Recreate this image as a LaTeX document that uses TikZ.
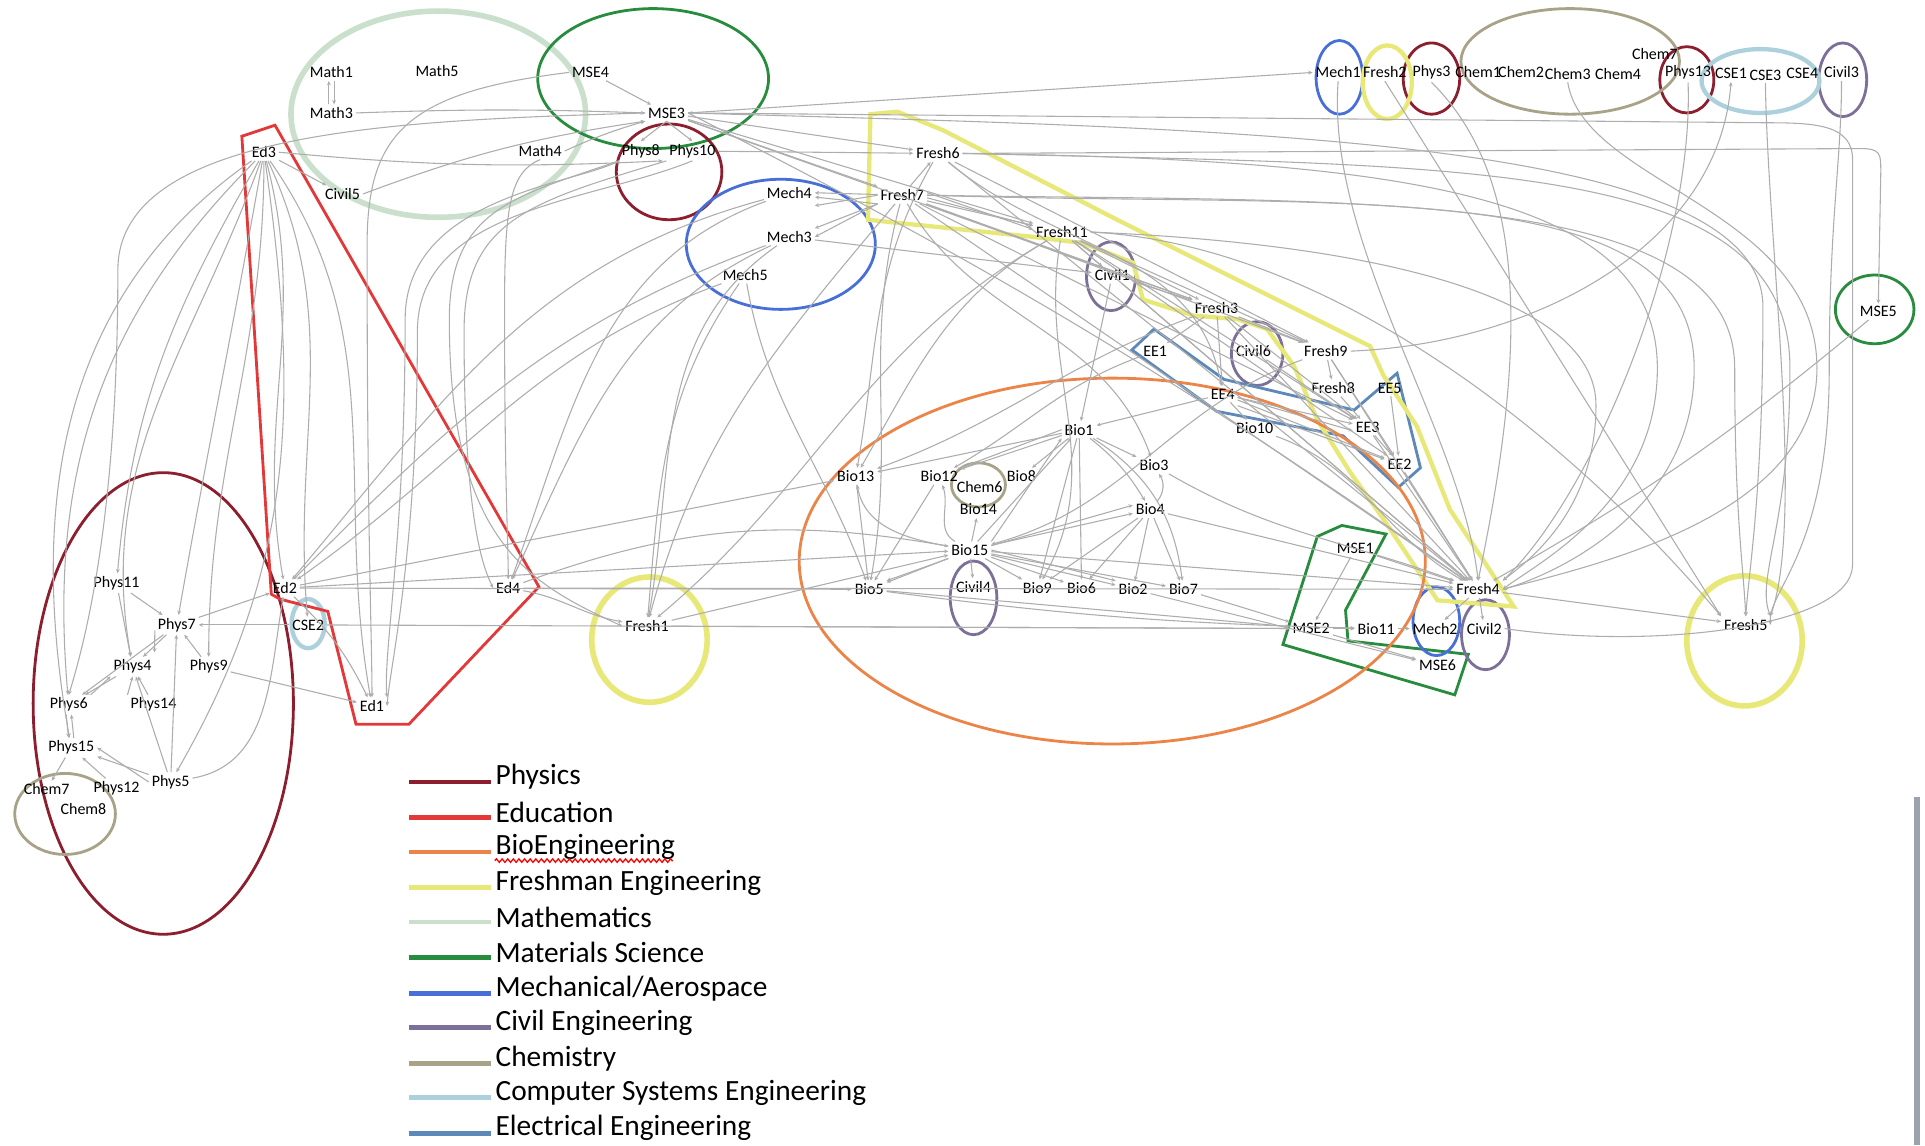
\documentclass[tikz,border=0pt]{standalone}
\usepackage{fontspec}
\setmainfont{Carlito}
\usetikzlibrary{arrows.meta, decorations.pathmorphing}

\definecolor{physc}{RGB}{140,30,45}
\definecolor{educ}{RGB}{228,55,55}
\definecolor{bioc}{RGB}{236,132,72}
\definecolor{freshc}{RGB}{232,232,120}
\definecolor{mathc}{RGB}{202,224,204}
\definecolor{msec}{RGB}{40,140,62}
\definecolor{mechc}{RGB}{72,110,215}
\definecolor{civc}{RGB}{125,112,152}
\definecolor{chemc}{RGB}{168,162,136}
\definecolor{csec}{RGB}{172,208,220}
\definecolor{eec}{RGB}{92,136,186}
\definecolor{barc}{RGB}{155,163,172}

\tikzset{
  crs/.style={font=\fontsize{3.7}{4}\selectfont, inner sep=0.5pt},
  lnk/.style={draw=black!32, line width=0.25pt, -{Stealth[length=1pt,width=0.9pt]}},
  grp/.style={line width=0.65pt},
  soft/.style={line width=1.3pt},
  legline/.style={line width=1.1pt},
  legtext/.style={font=\fontsize{6.8}{7}\selectfont, anchor=west, inner sep=0pt},
}

\begin{document}
\begin{tikzpicture}[x=0.01cm, y=-0.01cm]
\useasboundingbox (0,0) rectangle (1568,933);

% Mathematics
\draw[mathc, soft] (357,93) ellipse [x radius=120, y radius=84];
% Materials Science
\draw[msec, grp] (532,64) ellipse [x radius=94, y radius=57];
\draw[msec, grp] (1527,252) ellipse [x radius=32, y radius=28];
\draw[msec, grp] (1073,437) -- (1093,428) -- (1129,435) -- (1096,497) -- (1098,522) -- (1196,533) -- (1185,566) -- (1045,525) -- cycle;
% Physics
\draw[physc, grp] (545,140) ellipse [x radius=43, y radius=39];
\draw[physc, grp] (133,573) ellipse [x radius=106, y radius=188];
\draw[physc, grp] (1166,64) ellipse [x radius=23, y radius=29];
\draw[physc, grp] (1374,65) ellipse [x radius=22, y radius=27];
% Mechanical/Aerospace
\draw[mechc, grp] (636,199) ellipse [x radius=77, y radius=53];
\draw[mechc, grp] (1091,63) ellipse [x radius=19, y radius=30];
\draw[mechc, grp] (1170,506) ellipse [x radius=19, y radius=28];
% Civil
\draw[civc, grp] (905,225) ellipse [x radius=20, y radius=28];
\draw[civc, grp] (1024,288) ellipse [x radius=21, y radius=26];
\draw[civc, grp] (793,487) ellipse [x radius=19, y radius=30];
\draw[civc, grp] (1210,517) ellipse [x radius=19.5, y radius=28.5];
\draw[civc, grp] (1501,65) ellipse [x radius=19.5, y radius=30];
% Chemistry
\draw[chemc, grp] (1279,50) ellipse [x radius=89, y radius=43];
\draw[chemc, grp] (797,395) ellipse [x radius=22, y radius=18];
\draw[chemc, grp] (53,663) ellipse [x radius=41, y radius=33];
% Computer Systems
\draw[csec, line width=1pt] (1434,66) ellipse [x radius=48, y radius=26];
\draw[csec, line width=1pt] (251,508) ellipse [x radius=13.5, y radius=20];
% Electrical
\draw[eec, grp] (922,285) -- (940,268) -- (997,309) -- (1103,334) -- (1138,304) -- (1157,381) -- (1139,397) -- (1094,355) -- (991,335) -- cycle;
% Education
\draw[educ, grp] (197,111) -- (224,102) -- (439,478) -- (333,590) -- (290,590) -- (267,498) -- (228,488) -- (221,484) -- cycle;
% Freshman
\draw[freshc, line width=1pt] (709,93) -- (731,91) -- (768,106) -- (910,179) -- (1116,282) -- (1127,306) -- (1154,347) -- (1181,415) -- (1233,494) -- (1171,489) -- (1127,423) -- (1100,385) -- (1073,342) -- (1054,298) -- (1032,268) -- (1008,260) -- (972,257) -- (931,244) -- (923,214) -- (882,198) -- (842,193) -- (707,179) -- cycle;
\draw[freshc, soft] (529,521) ellipse [x radius=47, y radius=51];
\draw[freshc, soft] (1421,522) ellipse [x radius=47, y radius=53];
\draw[freshc, line width=1pt] (1130,67) ellipse [x radius=20, y radius=30];
% BioEngineering
\draw[bioc, grp] (906,457) ellipse [x radius=255, y radius=149];

% Courses
\node[crs] (m1) at (270,59) {Math1};
\node[crs] (m5) at (356,58) {Math5};
\node[crs] (m3) at (270,92) {Math3};
\node[crs] (m4) at (440,123) {Math4};
\node[crs] (c5) at (279,158) {Civil5};
\node[crs] (ed3) at (215,124) {Ed3};
\node[crs] (mse4) at (481,59) {MSE4};
\node[crs] (mse3) at (543,92) {MSE3};
\node[crs] (p8) at (522,123) {Phys8};
\node[crs] (p10) at (564,123) {Phys10};
\node[crs] (f6) at (764,125) {Fresh6};
\node[crs] (f7) at (735,159) {Fresh7};
\node[crs] (me4) at (643,157) {Mech4};
\node[crs] (me3) at (643,193) {Mech3};
\node[crs] (me5) at (607,224) {Mech5};
\node[crs] (f11) at (865,189) {Fresh11};
\node[crs] (c1) at (906,224) {Civil1};
\node[crs] (f3) at (991,251) {Fresh3};
\node[crs] (ee1) at (941,286) {EE1};
\node[crs] (c6) at (1021,286) {Civil6};
\node[crs] (f9) at (1080,286) {Fresh9};
\node[crs] (f8) at (1086,316) {Fresh8};
\node[crs] (ee5) at (1132,316) {EE5};
\node[crs] (ee4) at (996,321) {EE4};
\node[crs] (b10) at (1022,349) {Bio10};
\node[crs] (ee3) at (1114,348) {EE3};
\node[crs] (ee2) at (1140,378) {EE2};
\node[crs] (b1) at (879,350) {Bio1};
\node[crs] (b3) at (940,379) {Bio3};
\node[crs] (b13) at (697,388) {Bio13};
\node[crs] (b12) at (765,388) {Bio12};
\node[crs] (ch6) at (798,397) {Chem6};
\node[crs] (b8) at (832,388) {Bio8};
\node[crs] (b14) at (797,415) {Bio14};
\node[crs] (b4) at (937,415) {Bio4};
\node[crs] (b15) at (790,448) {Bio15};
\node[crs] (b5) at (708,480) {Bio5};
\node[crs] (c4) at (793,478) {Civil4};
\node[crs] (b9) at (845,479) {Bio9};
\node[crs] (b6) at (881,479) {Bio6};
\node[crs] (b2) at (923,480) {Bio2};
\node[crs] (b7) at (964,480) {Bio7};
\node[crs] (mse1) at (1104,447) {MSE1};
\node[crs] (f4) at (1204,480) {Fresh4};
\node[crs] (mse2) at (1068,512) {MSE2};
\node[crs] (b11) at (1121,512) {Bio11};
\node[crs] (me2) at (1169,512) {Mech2};
\node[crs] (c2) at (1209,512) {Civil2};
\node[crs] (mse6) at (1171,542) {MSE6};
\node[crs] (f5) at (1422,509) {Fresh5};
\node[crs] (mse5) at (1530,254) {MSE5};
\node[crs] (f1) at (527,510) {Fresh1};
\node[crs] (ed2) at (232,479) {Ed2};
\node[crs] (ed4) at (414,479) {Ed4};
\node[crs] (cse2) at (251,509) {CSE2};
\node[crs] (ed1) at (303,575) {Ed1};
\node[crs] (p11) at (95,475) {Phys11};
\node[crs] (p7) at (144,509) {Phys7};
\node[crs] (p4) at (108,543) {Phys4};
\node[crs] (p9) at (170,543) {Phys9};
\node[crs] (p6) at (56,574) {Phys6};
\node[crs] (p14) at (125,574) {Phys14};
\node[crs] (p15) at (58,609) {Phys15};
\node[crs] (p12) at (95,642) {Phys12};
\node[crs] (p5) at (139,637) {Phys5};
\node[crs] (ch7a) at (38,643) {Chem7};
\node[crs] (ch8) at (68,659) {Chem8};
\node[crs] (me1) at (1090,59) {Mech1};
\node[crs] (f2) at (1128,59) {Fresh2};
\node[crs] (p3) at (1166,59) {Phys3};
\node[crs] (ch1) at (1204,59) {Chem1};
\node[crs] (ch2) at (1239,59) {Chem2};
\node[crs] (ch3) at (1277,60) {Chem3};
\node[crs] (ch4) at (1318,60) {Chem4};
\node[crs] (ch7b) at (1348,44) {Chem7};
\node[crs] (p13) at (1375,59) {Phys13};
\node[crs] (cse1) at (1410,60) {CSE1};
\node[crs] (cse3) at (1438,61) {CSE3};
\node[crs] (cse4) at (1468,60) {CSE4};
\node[crs] (c3) at (1500,59) {Civil3};

% Math and MSE links
\draw[lnk] ([xshift=-0.6pt]m3.north) -- ([xshift=-0.6pt]m1.south);
\draw[lnk] ([xshift=0.6pt]m1.south) -- ([xshift=0.6pt]m3.north);
\draw[lnk] (mse4) -- (mse3);
\draw[lnk] (m3.east) to[bend left=2] (mse3.west);
\draw[lnk] (c5.east) to[bend left=6] (mse3.south west);
\draw[lnk] (m4.east) to[bend left=4] (mse3.south west);
\draw[lnk] (mse3.south) -- (p8.north);
\draw[lnk] (mse3.south) -- (p10.north);
\draw[lnk] (mse3.west) .. controls (330,98) and (96,105) .. (96,220) .. controls (96,420) and (70,520) .. (p6.north);
\draw[lnk] (mse4.west) .. controls (330,75) and (299,110) .. (299,200) .. controls (299,430) and (303,520) .. (ed1.north);
\draw[lnk] (p8.south west) .. controls (470,150) and (330,160) .. (330,260) .. controls (330,440) and (312,530) .. (ed1.north east);
\draw[lnk] (p10.south) .. controls (480,165) and (340,170) .. (340,270) .. controls (340,450) and (318,540) .. (ed1.east);
\draw[lnk] (m4.south) .. controls (415,140) and (411,170) .. (411,250) .. controls (411,400) and (414,440) .. (ed4.north);
\draw[lnk] (p8.south west) .. controls (420,160) and (366,170) .. (366,260) .. controls (366,440) and (430,475) .. (f1.west);
\draw[lnk] (p10.south west) .. controls (430,165) and (378,180) .. (378,270) .. controls (378,430) and (395,465) .. (ed4.west);

% Education links
\draw[lnk] (ed3) -- (c5);
\draw[lnk] (ed3.east) to[bend right=4] (p8.south east);
\draw[lnk] (ed3) to[out=-120,in=85] (p11);
\draw[lnk] (ed3) to[out=-135,in=95] (p6);
\draw[lnk] (ed3) to[out=-110,in=100] (p4);
\draw[lnk] (ed3) to[out=-100,in=80] (p7);
\draw[lnk] (ed3) to[out=-90,in=90] (p9);
\draw[lnk] (ed3) to[out=-82,in=60] (p5);
\draw[lnk] (ed3) to[out=-75,in=100] (ed2);
\draw[lnk] (ed3) to[out=-65,in=95] (cse2);
\draw[lnk] (ed3) to[out=-55,in=100] (ed1);
\draw[lnk] (ed3) to[out=-145,in=100] (p15);
\draw[lnk] (ed2) to[bend left=10] (ed1);
\draw[lnk] (ed2) -- (b13);
\draw[lnk] (ed2) -- (b5);
\draw[lnk] (ed2) -- (b15);
\draw[lnk] (cse2) -- (mse2);
\draw[lnk] (ed4) -- (f4);
\draw[lnk] (ed4) to[out=-10,in=170] (f1);
\draw[lnk] (ed4) to[out=20,in=170] (b15);

% Physics links
\draw[lnk] (p11) -- (p7);
\draw[lnk] (p11) -- (p4);
\draw[lnk] (p7) -- (p4);
\draw[lnk] ([yshift=1pt]p7.south west) -- ([yshift=1pt]p4.north east);
\draw[lnk] (p4) -- (p6);
\draw[lnk] (p6.north east) -- (p4.south west);
\draw[lnk] (p7) -- (p6);
\draw[lnk] (p14) -- (p4);
\draw[lnk] (p14.north west) -- (p4.south);
\draw[lnk] (p9) -- (p7);
\draw[lnk] (p5) -- (p7);
\draw[lnk] (p5) -- (p4);
\draw[lnk] (p5) -- (p15);
\draw[lnk] (p5.west) -- (p15.east);
\draw[lnk] (p12) -- (p15);
\draw[lnk] ([xshift=-0.6pt]p6.south) -- ([xshift=-0.6pt]p15.north);
\draw[lnk] ([xshift=0.6pt]p15.north) -- ([xshift=0.6pt]p6.south);
\draw[lnk] (p15) -- (ch7a);
\draw[lnk] (p7) -- (ed2);
\draw[lnk] (cse2) -- (p7);
\draw[lnk] (p9) -- (ed1);
\draw[lnk] (p5) to[out=10,in=-100] (ed2);

% Mechanical links
\draw[lnk] (me4) to[out=195,in=50] (ed2);
\draw[lnk] (me3) to[out=200,in=45] (ed2);
\draw[lnk] (me5) to[out=200,in=35] (ed2);
\draw[lnk] (me4) to[out=200,in=70] (ed4);
\draw[lnk] (me3) to[out=205,in=65] (ed4);
\draw[lnk] (me3) to[out=215,in=80] (f1);
\draw[lnk] (me5) to[out=235,in=85] (f1);
\draw[lnk] (me5) to[out=-80,in=110] (b5);
\draw[lnk] (me3) -- (c1);
\draw[lnk] (f7) -- (me4.east);
\draw[lnk] (f7.west) -- ([yshift=-1pt]me4.south east);
\draw[lnk] (f7.south west) -- ([yshift=1pt]me4.south east);
\draw[lnk] (f7.south west) -- (me3.north east);
\draw[lnk] (f7.south west) -- (me3.east);

% Freshman links
\draw[lnk] (mse3) -- (f7);
\draw[lnk] (mse3) -- (f11);
\draw[lnk] (mse3) -- (f6);
\draw[lnk] (p10) -- (f6);
\draw[lnk] (mse3) -- (f3);
\draw[lnk] (mse3.east) to[bend left=4] (f4);
\draw[lnk] (mse3.east) -- (me1.west);
\draw[lnk] (f7) -- (f6);
\draw[lnk] (f7) -- (f11);
\draw[lnk] ([yshift=0.6pt]f7.east) -- ([yshift=0.6pt]f11.west);
\draw[lnk] ([yshift=-0.6pt]f7.east) -- ([yshift=-0.6pt]f11.north west);
\draw[lnk] (f7) -- (f3);
\draw[lnk] (f7) -- (f9);
\draw[lnk] (f7) -- (f4);
\draw[lnk] (f7) -- (ee3);
\draw[lnk] (f7) to[out=-105,in=80] (b5);
\draw[lnk] (f7) to[out=-60,in=110] (b3);
\draw[lnk] (f7) to[out=230,in=75] (f1);
\draw[lnk] (f6) to[out=-120,in=80] (b13);
\draw[lnk] (f6) to[out=-40,in=100] (ee4);
\draw[lnk] (f6) -- (f4);
\draw[lnk] (f6) -- (f9);
\draw[lnk] (f11) -- (f3);
\draw[lnk] (f11) -- (c1);
\draw[lnk] (f11) -- (f9);
\draw[lnk] (f11) -- (ee3);
\draw[lnk] (f11) -- (ee2);
\draw[lnk] (f11) -- (f4);
\draw[lnk] (f11) to[out=-150,in=60] (b13);
\draw[lnk] (f11) to[out=-150,in=40] (f1);
\draw[lnk] (f11) to[out=-100,in=60] (b9);
\draw[lnk] (c1) -- (b1);
\draw[lnk] (c1) -- (f3);
\draw[lnk] (c1) -- (f4);
\draw[lnk] (f3) -- (f9);
\draw[lnk] (f3) -- (ee1);
\draw[lnk] (f3) -- (ee4);
\draw[lnk] (f3) -- (ee3);
\draw[lnk] (f3) -- (f4);
\draw[lnk] (f3) to[out=200,in=20] (b13);
\draw[lnk] (f9) -- (f8);
\draw[lnk] (f9) -- (ee2);
\draw[lnk] (f9) -- (f4);
\draw[lnk] (f9) to[out=200,in=15] (b15);
\draw[lnk] (c6) -- (ee3);
\draw[lnk] (ee1) to[out=200,in=30] (b12);

% Electrical links
\draw[lnk] (ee4) -- (ee3);
\draw[lnk] ([yshift=-0.8pt]ee4.east) -- ([yshift=-0.8pt]ee3.west);
\draw[lnk] (ee4) -- (ee2);
\draw[lnk] ([yshift=-0.8pt]ee4.south east) -- ([yshift=-0.8pt]ee2.north west);
\draw[lnk] (ee4) -- (b1);
\draw[lnk] (ee4) -- (b10);
\draw[lnk] (ee5) -- (ee2);
\draw[lnk] (ee3) -- (ee2);
\draw[lnk] (f8) -- (ee3);
\draw[lnk] (ee2) -- (f4);
\draw[lnk] (ee3) -- (f4);
\draw[lnk] (b10) to[out=-20,in=150] (f4);

% Bio links
\draw[lnk] (b15) -- (b1);
\draw[lnk] (b15.north east) -- (b1.south west);
\draw[lnk] (b15) -- (b4);
\draw[lnk] ([yshift=1pt]b15.east) -- ([yshift=1pt]b4.west);
\draw[lnk] (b15) -- (b5);
\draw[lnk] (b15.south west) -- (b5.north east);
\draw[lnk] (b15) -- (b9);
\draw[lnk] (b15) -- (b6);
\draw[lnk] (b15) -- (b2);
\draw[lnk] (b15.east) -- (b2.north west);
\draw[lnk] (b15) -- (b7);
\draw[lnk] (b15) -- (b14);
\draw[lnk] (b15) -- (c4);
\draw[lnk] (b15) to[out=170,in=-80] (b13);
\draw[lnk] (b15) to[out=150,in=-70] (b12);
\draw[lnk] (b15) -- (f4);
\draw[lnk] (b1) -- (b12);
\draw[lnk] (b1.west) -- (b12.north east);
\draw[lnk] (b1) -- (b8);
\draw[lnk] (b1) -- (b3);
\draw[lnk] (b1) -- (b13);
\draw[lnk] (b1) -- (b9);
\draw[lnk] (b1) -- (b6);
\draw[lnk] (b1) to[bend left=25] (b7);
\draw[lnk] (b1) to[bend left=10] (b4);
\draw[lnk] (b4) -- (b2);
\draw[lnk] (b4) -- (b6);
\draw[lnk] (b4) -- (b7);
\draw[lnk] (b4) -- (b9);
\draw[lnk] (b4) to[bend right=35] (b3);
\draw[lnk] (b4) -- (f4);
\draw[lnk] (b3) to[out=-30,in=160] (f4);
\draw[lnk] (b12) -- (b5);
\draw[lnk] (b13) -- (b5);
\draw[lnk] (b5) -- (mse2);
\draw[lnk] (b5) to[bend right=3] (b11);
\draw[lnk] (b7) -- (mse2);
\draw[lnk] (b2) -- (mse6);
\draw[lnk] (f1) -- (mse2);
\draw[lnk] (f1) -- (b15);

% Materials links
\draw[lnk] (mse1) -- (f4);
\draw[lnk] (mse1) -- (mse2);
\draw[lnk] (mse2) -- (b11);
\draw[lnk] (mse2) -- (mse6);
\draw[lnk] (b11) -- (me2);
\draw[lnk] (f4) -- (me2);
\draw[lnk] (f4) -- (c2);
\draw[lnk] (f4) -- (f5);
\draw[lnk] (mse5) to[bend left=5] (f4);

% Right side loops
\draw[lnk] (f6.east) -- (1515,121) .. controls (1532,121) and (1532,125) .. (1532,140) -- (mse5.north);
\draw[lnk] (c2.east) .. controls (1350,530) and (1509,510) .. (1509,460) -- (1509,130) .. controls (1509,102) and (1480,100) .. (1440,100) -- (mse3.east);
\draw[lnk] (f7.east) .. controls (1100,165) and (1413,150) .. (1413,300) .. controls (1413,420) and (1420,460) .. (f5.north);
\draw[lnk] (mse3.east) .. controls (1000,105) and (1436,110) .. (1436,250) .. controls (1436,400) and (1425,460) .. (f5.north);
\draw[lnk] (f6.east) .. controls (1200,135) and (1458,130) .. (1458,300) .. controls (1458,430) and (1430,470) .. (f5.north east);
\draw[lnk] (f11.east) .. controls (1100,200) and (1300,380) .. (f5.north west);
\draw[lnk] (f7.east) .. controls (1100,170) and (1380,140) .. (1380,300) .. controls (1380,420) and (1260,470) .. (f4.east);
\draw[lnk] (f6.east) .. controls (1150,130) and (1350,160) .. (1350,300) .. controls (1350,410) and (1250,460) .. (f4.east);
\draw[lnk] (f11.east) .. controls (1150,200) and (1300,250) .. (1300,330) .. controls (1300,420) and (1240,460) .. (f4.north east);
\draw[lnk] (ch3.south) .. controls (1290,150) and (1480,170) .. (1480,300) .. controls (1480,420) and (1300,460) .. (f4.east);
\draw[lnk] (c3.south) .. controls (1500,130) and (1490,180) .. (1490,300) .. controls (1490,450) and (1440,480) .. (f5.east);
\draw[lnk] (cse3.south) .. controls (1440,200) and (1470,420) .. (f5.north east);
\draw[lnk] (p13.south) .. controls (1380,200) and (1300,400) .. (f4.north east);
\draw[lnk] (f2.south) -- (f5.north west);
\draw[lnk] (p3.south) .. controls (1250,150) and (1240,300) .. (f4.north);
\draw[lnk] (me1.south) .. controls (1080,200) and (1190,350) .. (f4.north);
\draw[lnk] (f9.east) .. controls (1250,280) and (1400,200) .. (cse1.south);

% Legend
\draw[legline, physc] (333,637) -- (400,637);
\node[legtext] (lphys) at (403,633) {Physics};
\draw[legline, educ] (333,666) -- (400,666);
\node[legtext] (ledu) at (403,662) {Education};
\draw[legline, bioc] (333,694) -- (400,694);
\node[legtext] (lbio) at (403,690) {BioEngineering};
\draw[red, line width=0.3pt, decorate, decoration={snake, amplitude=0.4pt, segment length=1.3pt}] (403,701) -- (548,701);
\draw[legline, freshc] (333,723) -- (400,723);
\node[legtext] (lfresh) at (403,719) {Freshman Engineering};
\draw[legline, mathc] (333,751) -- (400,751);
\node[legtext] (lmath) at (403,747) {Mathematics};
\draw[legline, msec] (333,780) -- (400,780);
\node[legtext] (lmse) at (403,776) {Materials Science};
\draw[legline, mechc] (333,809) -- (400,809);
\node[legtext] (lmech) at (403,805) {Mechanical/Aerospace};
\draw[legline, civc] (333,837) -- (400,837);
\node[legtext] (lciv) at (403,833) {Civil Engineering};
\draw[legline, chemc] (333,866) -- (400,866);
\node[legtext] (lchem) at (403,862) {Chemistry};
\draw[legline, csec] (333,894) -- (400,894);
\node[legtext] (lcse) at (403,890) {Computer Systems Engineering};
\draw[legline, eec] (333,923) -- (400,923);
\node[legtext] (lee) at (403,919) {Electrical Engineering};

% page edge
\fill[barc] (1559,649) rectangle (1564,933);
\end{tikzpicture}
\end{document}
